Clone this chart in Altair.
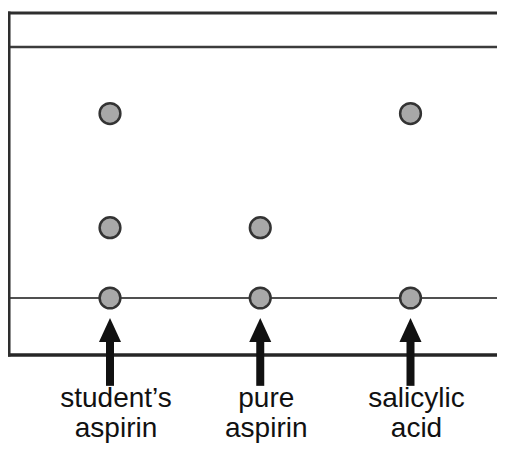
import altair as alt
import pandas as pd

# Lanes on the TLC plate
labels = ["student’s\naspirin", "pure\naspirin", "salicylic\nacid"]
lane_pos = [1, 2, 3]

# Spots: lane and Rf value (distance from origin / solvent front distance)
spot_lane = [1, 1, 1, 2, 2, 3, 3]
spot_rf = [0.0, 0.28, 0.735, 0.0, 0.28, 0.0, 0.735]

# Plate geometry in the same units (Rf on y, lane on x)
PLATE_TOP = 1.135
SOLVENT_FRONT = 1.0
ORIGIN = 0.0
PLATE_BOTTOM = -0.227
PLATE_LEFT = 0.328
PLATE_RIGHT = 3.9

ARROW_BOTTOM = -0.35
ARROW_NECK = -0.16
ARROW_HEAD = -0.1275
LABEL_Y = -0.434

xs = alt.Scale(domain=[0.3211, 3.5757], nice=False, zero=False)
ys = alt.Scale(domain=[-0.5857, 1.1554], nice=False, zero=False)

hlines = pd.DataFrame({
    "y": [PLATE_TOP, SOLVENT_FRONT, ORIGIN, PLATE_BOTTOM],
    "x1": [PLATE_LEFT] * 4,
    "x2": [PLATE_RIGHT] * 4,
    "w": [3.0, 2.5, 2.0, 3.5],
    "c": ["#2e2e2e", "#3c3c3c", "#505050", "#262626"],
})
h_rules = alt.Chart(hlines).mark_rule(strokeCap="square").encode(
    x=alt.X("x1:Q", scale=xs, axis=None),
    x2="x2:Q",
    y=alt.Y("y:Q", scale=ys, axis=None),
    strokeWidth=alt.StrokeWidth("w:Q", scale=None),
    color=alt.Color("c:N", scale=None),
)

vline = pd.DataFrame({"x": [PLATE_LEFT], "y1": [PLATE_BOTTOM], "y2": [PLATE_TOP]})
v_rule = alt.Chart(vline).mark_rule(strokeWidth=3, color="#2e2e2e", strokeCap="square").encode(
    x=alt.X("x:Q", scale=xs, axis=None),
    y=alt.Y("y1:Q", scale=ys, axis=None),
    y2="y2:Q",
)

spots = pd.DataFrame({"lane": spot_lane, "rf": spot_rf})
spot_marks = alt.Chart(spots).mark_point(
    shape="circle", filled=True, size=430, fill="#a8a8a8",
    stroke="#333333", strokeWidth=2.5, opacity=1, fillOpacity=1,
).encode(
    x=alt.X("lane:Q", scale=xs, axis=None),
    y=alt.Y("rf:Q", scale=ys, axis=None),
)

arrows = pd.DataFrame({
    "lane": lane_pos,
    "y1": [ARROW_BOTTOM] * 3,
    "y2": [ARROW_NECK] * 3,
    "head": [ARROW_HEAD] * 3,
    "label": labels,
    "ly": [LABEL_Y] * 3,
})
shafts = alt.Chart(arrows).mark_rule(strokeWidth=8, color="#111111", strokeCap="butt").encode(
    x=alt.X("lane:Q", scale=xs, axis=None),
    y=alt.Y("y1:Q", scale=ys, axis=None),
    y2="y2:Q",
)
heads = alt.Chart(arrows).mark_point(
    shape="M0,-1L0.92,1L-0.92,1Z", filled=True, size=576,
    color="#111111", opacity=1,
).encode(
    x=alt.X("lane:Q", scale=xs, axis=None),
    y=alt.Y("head:Q", scale=ys, axis=None),
)

texts = alt.Chart(arrows).mark_text(
    font="Liberation Sans", fontSize=28, lineHeight=30, align="center",
    baseline="alphabetic", dx=6, lineBreak="\n", color="#111111",
).encode(
    x=alt.X("lane:Q", scale=xs, axis=None),
    y=alt.Y("ly:Q", scale=ys, axis=None),
    text="label:N",
)

chart = alt.layer(h_rules, v_rule, spot_marks, shafts, heads, texts).properties(
    width=489, height=437, padding=0,
    autosize=alt.AutoSizeParams(type="none"),
    background="white",
).configure_view(stroke=None)

chart.save("out.html", embed_options={"renderer": "svg", "actions": False})
